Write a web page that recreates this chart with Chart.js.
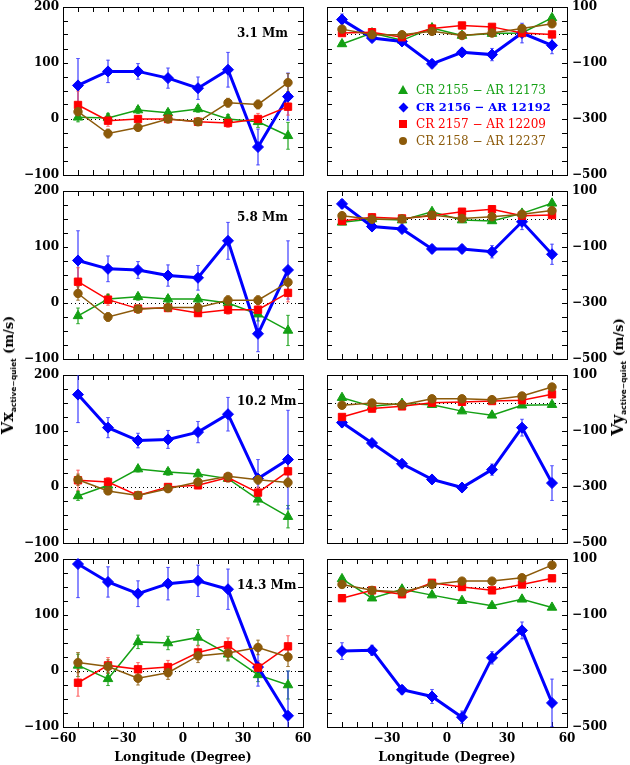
<!DOCTYPE html>
<html>
<head>
<meta charset="utf-8">
<script src="https://cdn.jsdelivr.net/npm/chart.js@4.4.0/dist/chart.umd.min.js"></script>
<style>
html, body { margin: 0; padding: 0; background: #fff; }
#wrap { position: relative; width: 630px; height: 765px; overflow: hidden; }
#wrap canvas { position: absolute; left: 0; top: 0; }
.depth { position: absolute; font: bold 12px 'DejaVu Serif'; color: #000; white-space: pre; line-height: 14px; }
.ytitle { position: absolute; font: bold 13px 'DejaVu Serif'; color: #000; white-space: nowrap;
          transform: translate(-50%, -50%) rotate(-90deg); line-height: 16px; }
.ytitle .big { font-size: 16px; }
.ytitle sub { font: bold 7.5px 'DejaVu Sans'; vertical-align: -3px; }
.leg { position: absolute; left: 397px; height: 14px; font: 12px 'DejaVu Serif'; line-height: 14px; white-space: nowrap; }
.leg .mk { position: absolute; left: 0; top: 0; width: 12px; height: 14px; }
.leg .tx { position: absolute; left: 19px; top: 0; }
</style>
</head>
<body>
<div id="wrap"></div>
<script>
// longitudes of the bins and axis ticks
const longitude = [-52.5, -37.5, -22.5, -7.5, 7.5, 22.5, 37.5, 52.5];
const depths = ['3.1 Mm', '5.8 Mm', '10.2 Mm', '14.3 Mm'];
const crLabels = ['CR 2155 \u2212 AR 12173', 'CR 2156 \u2212 AR 12192', 'CR 2157 \u2212 AR 12209', 'CR 2158 \u2212 AR 12237'];

const xTicks = [-60, -52.5, -45, -37.5, -30, -22.5, -15, -7.5, 0, 7.5, 15, 22.5, 30, 37.5, 45, 52.5, 60];
const xTickLabels = [-60, -30, 0, 30, 60];
const vxTicks = [-100, -75, -50, -25, 0, 25, 50, 75, 100, 125, 150, 175, 200];
const vxTickLabels = [-100, 0, 100, 200];
const vyTicks = [-500, -450, -400, -350, -300, -250, -200, -150, -100, -50, 0, 50, 100];
const vyTickLabels = [-500, -300, -100, 100];

// Vx, 3.1 Mm
const vx31_2155 = [3, 2, 16, 11, 18, 0, -5, -30];
const vx31_2155e = [8, 8, 6, 6, 6, 8, 10, 24];
const vx31_2156 = [60, 85, 85, 73, 55, 88, -50, 40];
const vx31_2156e = [48, 20, 14, 18, 20, 31, 32, 42];
const vx31_2157 = [25, -3, 0, 0, -5, -7, 0, 22];
const vx31_2157e = [25, 10, 6, 6, 6, 8, 10, 15];
const vx31_2158 = [13, -26, -15, 0, -5, 29, 26, 65];
const vx31_2158e = [12, 8, 6, 6, 6, 8, 8, 16];

// Vx, 5.8 Mm
const vx58_2155 = [-23, 7, 11, 7, 7, 0, -20, -49];
const vx58_2155e = [14, 8, 6, 6, 6, 8, 12, 27];
const vx58_2156 = [76, 61, 59, 49, 45, 111, -55, 59];
const vx58_2156e = [53, 23, 15, 19, 22, 33, 32, 52];
const vx58_2157 = [38, 6, -10, -9, -18, -12, -12, 18];
const vx58_2157e = [25, 10, 6, 6, 6, 8, 10, 16];
const vx58_2158 = [17, -25, -11, -8, -8, 5, 5, 37];
const vx58_2158e = [12, 8, 6, 6, 6, 8, 8, 15];

// Vx, 10.2 Mm
const vx102_2155 = [-16, 3, 32, 27, 23, 15, -22, -53];
const vx102_2155e = [8, 6, 5, 6, 8, 6, 10, 20];
const vx102_2156 = [165, 106, 83, 85, 98, 130, 15, 49];
const vx102_2156e = [50, 18, 13, 16, 19, 30, 34, 88];
const vx102_2157 = [12, 9, -15, 0, 3, 17, -10, 28];
const vx102_2157e = [18, 8, 6, 6, 6, 8, 10, 15];
const vx102_2158 = [13, -7, -15, -3, 9, 19, 13, 8];
const vx102_2158e = [10, 6, 6, 6, 6, 6, 8, 8];

// Vx, 14.3 Mm
const vx143_2155 = [10, -14, 52, 50, 60, 30, -7, -25];
const vx143_2155e = [20, 12, 12, 12, 14, 12, 12, 25];
const vx143_2156 = [191, 159, 138, 156, 161, 146, 7, -80];
const vx143_2156e = [60, 27, 23, 29, 28, 36, 34, 80];
const vx143_2157 = [-21, 10, 3, 7, 33, 46, 6, 44];
const vx143_2157e = [24, 14, 12, 12, 12, 13, 12, 19];
const vx143_2158 = [15, 8, -13, -3, 27, 32, 42, 25];
const vx143_2158e = [18, 12, 12, 12, 12, 12, 13, 17];

// Vy, 3.1 Mm
const vy31_2155 = [-32, 7, -19, 25, -2, 5, 7, 61];
const vy31_2155e = [8, 6, 6, 6, 6, 6, 8, 10];
const vy31_2156 = [55, -11, -23, -103, -62, -70, 7, -37];
const vy31_2156e = [20, 12, 8, 14, 14, 22, 35, 30];
const vy31_2157 = [7, 10, -8, 23, 34, 29, 7, 2];
const vy31_2157e = [6, 6, 6, 6, 6, 6, 6, 6];
const vy31_2158 = [21, 1, 1, 13, -2, 7, 23, 40];
const vy31_2158e = [6, 6, 6, 6, 6, 6, 6, 6];

// Vy, 5.8 Mm
const vy58_2155 = [-12, 0, -4, 26, -4, -7, 20, 56];
const vy58_2155e = [8, 6, 6, 6, 6, 6, 6, 10];
const vy58_2156 = [54, -27, -36, -107, -107, -117, -10, -126];
const vy58_2156e = [15, 12, 8, 14, 14, 22, 28, 36];
const vy58_2157 = [-7, 6, 2, 12, 26, 35, 12, 14];
const vy58_2157e = [12, 6, 6, 6, 6, 6, 6, 6];
const vy58_2158 = [12, -1, 0, 14, 2, 8, 17, 30];
const vy58_2158e = [6, 6, 6, 6, 6, 6, 6, 6];

// Vy, 10.2 Mm
const vy102_2155 = [19, -12, -2, -6, -29, -44, -8, -6];
const vy102_2155e = [8, 6, 6, 6, 6, 6, 6, 6];
const vy102_2156 = [-70, -143, -217, -273, -302, -238, -88, -286];
const vy102_2156e = [15, 10, 8, 12, 14, 20, 30, 62];
const vy102_2157 = [-50, -20, -12, 1, 4, 7, 10, 31];
const vy102_2157e = [8, 6, 6, 6, 6, 6, 6, 6];
const vy102_2158 = [-8, 0, -6, 15, 15, 12, 25, 57];
const vy102_2158e = [6, 6, 6, 6, 6, 6, 6, 6];

// Vy, 14.3 Mm
const vy143_2155 = [29, -40, -8, -29, -49, -67, -44, -73];
const vy143_2155e = [8, 6, 6, 6, 6, 6, 6, 6];
const vy143_2156 = [-229, -226, -367, -391, -465, -253, -155, -414];
const vy143_2156e = [30, 18, 15, 25, 22, 22, 30, 85];
const vy143_2157 = [-40, -12, -26, 15, 0, -12, 9, 31];
const vy143_2157e = [10, 6, 6, 6, 6, 6, 6, 6];
const vy143_2158 = [9, -12, -18, 9, 21, 21, 33, 78];
const vy143_2158e = [6, 6, 6, 6, 6, 6, 6, 6];

const seriesColor = ['#14a014', '#0000ff', '#ff0000', '#8c5a0a'];
const errColor = ['rgba(20,160,20,0.7)', 'rgba(40,40,255,0.65)', 'rgba(255,60,60,0.6)', 'rgba(140,90,10,0.65)'];
const pointStyles = ['triangle', 'rectRot', 'rect', 'circle'];
const pointSizes = [5.5, 5.5, 5.2, 4.2];
const lineWidths = [1.5, 3, 1.5, 1.5];

const panels = [
    { col: 0, row: 0, kind: 'vx', vals: [vx31_2155, vx31_2156, vx31_2157, vx31_2158], errs: [vx31_2155e, vx31_2156e, vx31_2157e, vx31_2158e] },
    { col: 1, row: 0, kind: 'vy', vals: [vy31_2155, vy31_2156, vy31_2157, vy31_2158], errs: [vy31_2155e, vy31_2156e, vy31_2157e, vy31_2158e] },
    { col: 0, row: 1, kind: 'vx', vals: [vx58_2155, vx58_2156, vx58_2157, vx58_2158], errs: [vx58_2155e, vx58_2156e, vx58_2157e, vx58_2158e] },
    { col: 1, row: 1, kind: 'vy', vals: [vy58_2155, vy58_2156, vy58_2157, vy58_2158], errs: [vy58_2155e, vy58_2156e, vy58_2157e, vy58_2158e] },
    { col: 0, row: 2, kind: 'vx', vals: [vx102_2155, vx102_2156, vx102_2157, vx102_2158], errs: [vx102_2155e, vx102_2156e, vx102_2157e, vx102_2158e] },
    { col: 1, row: 2, kind: 'vy', vals: [vy102_2155, vy102_2156, vy102_2157, vy102_2158], errs: [vy102_2155e, vy102_2156e, vy102_2157e, vy102_2158e] },
    { col: 0, row: 3, kind: 'vx', vals: [vx143_2155, vx143_2156, vx143_2157, vx143_2158], errs: [vx143_2155e, vx143_2156e, vx143_2157e, vx143_2158e] },
    { col: 1, row: 3, kind: 'vy', vals: [vy143_2155, vy143_2156, vy143_2157, vy143_2158], errs: [vy143_2155e, vy143_2156e, vy143_2157e, vy143_2158e] }
];

// frame positions on the page
const W = 630, H = 765;
const colLeft = [63, 327], colRight = [303, 567];
const rowTop = [7, 191, 375, 559], frameH = 168;
const labelAxisW = 44;  // room kept for the y tick labels (they are clipped to the axis box)

Chart.defaults.font.family = 'DejaVu Serif';
Chart.defaults.color = '#000';

function fmt(v) {
    return String(v).replace('-', '\u2212');
}

function tickAxis(pos, min, max, tickVals, labelVals, showLabels, size) {
    const horizontal = pos === 'top' || pos === 'bottom';
    return {
        type: 'linear', position: pos, min: min, max: max, offset: false,
        afterBuildTicks: s => { s.ticks = tickVals.map(v => ({ value: v })); },
        afterFit: s => {
            if (horizontal) s.height = size || 0; else s.width = size || 0;
            // keep the frame where it is, labels may stick out
            s.paddingTop = 0; s.paddingBottom = 0; s.paddingLeft = 0; s.paddingRight = 0;
        },
        ticks: {
            display: showLabels, autoSkip: false, maxRotation: 0, minRotation: 0,
            padding: horizontal ? 10 : (pos === 'left' ? 9 : 10),
            color: '#000',
            font: { family: 'DejaVu Serif', size: 12, weight: 'bold' },
            callback: v => labelVals.includes(v) ? fmt(v) : ''
        },
        grid: { display: true, drawOnChartArea: false, drawTicks: true, tickLength: -5, tickColor: '#000', tickWidth: 1, offset: false },
        border: { display: true, color: '#000', width: 1 }
    };
}

function makeDatasets(vals, errs) {
    const ds = [];
    vals.forEach((v, k) => {
        ds.push({
            type: 'line',
            data: longitude.map((x, i) => ({ x: x, y: v[i] })),
            borderColor: seriesColor[k],
            backgroundColor: seriesColor[k],
            borderWidth: lineWidths[k],
            tension: 0,
            pointStyle: pointStyles[k],
            pointRadius: pointSizes[k],
            pointBorderWidth: 1,
            pointBackgroundColor: seriesColor[k],
            pointBorderColor: seriesColor[k],
            clip: 6,
            order: 4 - k
        });
        // error bars as thin floating bars
        ds.push({
            type: 'bar',
            data: longitude.map((x, i) => ({ x: x, y: [v[i] - errs[k][i], v[i] + errs[k][i]] })),
            backgroundColor: errColor[k],
            barThickness: 1,
            grouped: false,
            order: 14 - k
        });
        // caps
        const caps = [];
        longitude.forEach((x, i) => {
            caps.push({ x: x, y: v[i] - errs[k][i] });
            caps.push({ x: x, y: v[i] + errs[k][i] });
        });
        ds.push({
            type: 'line', data: caps, showLine: false,
            pointStyle: 'line', pointRadius: 2, pointBorderWidth: 1,
            pointBorderColor: errColor[k], borderColor: errColor[k],
            order: 14 - k
        });
    });
    return ds;
}

const wrap = document.getElementById('wrap');

panels.forEach(p => {
    const canvas = document.createElement('canvas');
    canvas.width = W;
    canvas.height = H;
    wrap.appendChild(canvas);

    const isVx = p.kind === 'vx';
    const yMin = isVx ? -100 : -500, yMax = isVx ? 200 : 100;
    const yT = isVx ? vxTicks : vyTicks, yL = isVx ? vxTickLabels : vyTickLabels;
    const bottomRow = p.row === 3;
    const xLabels = p.col === 0 ? xTickLabels : xTickLabels.filter(v => v !== -60);

    const xb = tickAxis('bottom', -60, 60, xTicks, xLabels, bottomRow, bottomRow ? 38 : 0);
    if (bottomRow) {
        xb.title = { display: true, text: 'Longitude (Degree)', color: '#000', padding: 0,
                     font: { family: 'DejaVu Serif', size: 12.5, weight: 'bold' } };
    }

    const scales = {
        x: xb,
        xTop: tickAxis('top', -60, 60, xTicks, xLabels, false),
        y: tickAxis(isVx ? 'left' : 'right', yMin, yMax, yT, yL, true, labelAxisW),
        yMirror: tickAxis(isVx ? 'right' : 'left', yMin, yMax, yT, yL, false),
        yZero: {
            type: 'linear', position: 'left', min: yMin, max: yMax,
            afterBuildTicks: s => { s.ticks = [{ value: 0 }]; },
            afterFit: s => { s.width = 0; s.paddingTop = 0; s.paddingBottom = 0; },
            ticks: { display: false },
            grid: { drawOnChartArea: true, drawTicks: false, color: '#000', lineWidth: 1 },
            border: { display: false, dash: [1, 3] }
        }
    };

    new Chart(canvas, {
        type: 'line',
        data: { datasets: makeDatasets(p.vals, p.errs) },
        options: {
            responsive: false,
            animation: false,
            events: [],
            layout: {
                padding: {
                    left: colLeft[p.col] - (isVx ? labelAxisW : 0),
                    right: W - colRight[p.col] - (isVx ? 0 : labelAxisW),
                    top: rowTop[p.row],
                    bottom: bottomRow ? 0 : H - rowTop[p.row] - frameH
                }
            },
            scales: scales,
            plugins: { legend: { display: false }, tooltip: { enabled: false } }
        }
    });

    if (p.col === 0) {
        const d = document.createElement('div');
        d.className = 'depth';
        d.style.left = '237px';
        d.style.top = (rowTop[p.row] + 19) + 'px';
        d.textContent = depths[p.row];
        wrap.appendChild(d);
    }
});

// axis titles with subscripts
const yLeft = document.createElement('div');
yLeft.className = 'ytitle';
yLeft.style.left = '9px';
yLeft.style.top = '375px';
yLeft.innerHTML = '<span class="big">Vx</span><sub>active\u2212quiet</sub> (m/s)';
wrap.appendChild(yLeft);

const yRight = document.createElement('div');
yRight.className = 'ytitle';
yRight.style.left = '619px';
yRight.style.top = '377px';
yRight.innerHTML = '<span class="big">Vy</span><sub>active\u2212quiet</sub> (m/s)';
wrap.appendChild(yRight);

// legend in the top right panel
const legendY = [90, 107, 124, 141];
crLabels.forEach((label, k) => {
    const row = document.createElement('div');
    row.className = 'leg';
    row.style.top = (legendY[k] - 7) + 'px';
    row.style.color = seriesColor[k];
    if (k === 1) { row.style.fontWeight = 'bold'; row.style.fontSize = '11.5px'; }
    const mk = document.createElement('div');
    mk.className = 'mk';
    let shape = '';
    if (k === 0) shape = '<div style="position:absolute;left:1px;top:2px;width:0;height:0;border-left:5px solid transparent;border-right:5px solid transparent;border-bottom:9px solid ' + seriesColor[k] + '"></div>';
    if (k === 1) shape = '<div style="position:absolute;left:2.5px;top:3.5px;width:7px;height:7px;background:' + seriesColor[k] + ';transform:rotate(45deg)"></div>';
    if (k === 2) shape = '<div style="position:absolute;left:2px;top:3px;width:8px;height:8px;background:' + seriesColor[k] + '"></div>';
    if (k === 3) shape = '<div style="position:absolute;left:2px;top:3px;width:8px;height:8px;border-radius:50%;background:' + seriesColor[k] + '"></div>';
    mk.innerHTML = shape;
    const tx = document.createElement('div');
    tx.className = 'tx';
    tx.textContent = label;
    row.appendChild(mk);
    row.appendChild(tx);
    wrap.appendChild(row);
});
</script>
</body>
</html>
